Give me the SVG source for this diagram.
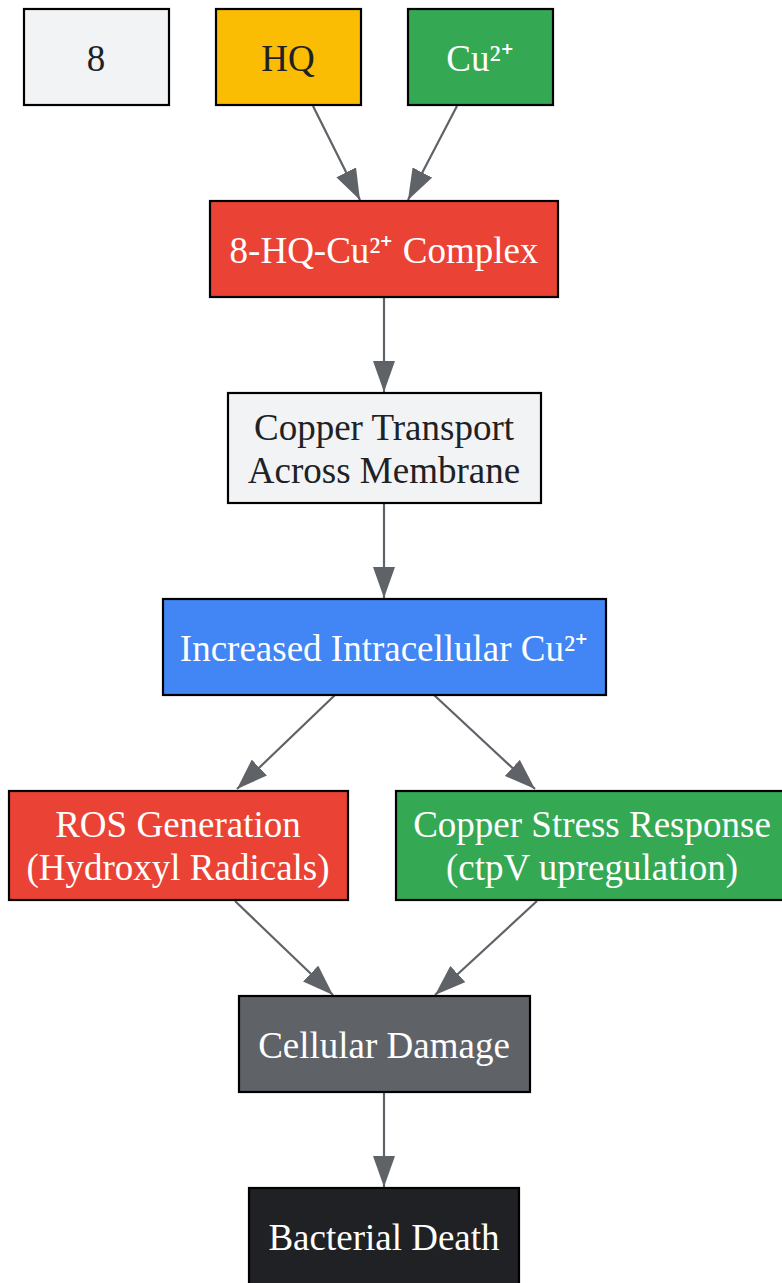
<svg xmlns="http://www.w3.org/2000/svg" width="782" height="1283" viewBox="0 0 782 1283">
<defs>
<marker id="arr" markerWidth="31" markerHeight="22" refX="31" refY="11" orient="auto" markerUnits="userSpaceOnUse">
<path d="M0,0 L31,11 L0,22 Z" fill="#5f6368"/>
</marker>
</defs>
<style>
.n{stroke:#000;stroke-width:2.2}
.t{font-family:"Liberation Serif","Times New Roman",serif;font-size:37px;text-anchor:middle}
.d{fill:#202124}
.w{fill:#ffffff}
.e{stroke:#5f6368;stroke-width:2.2;fill:none;marker-end:url(#arr)}
</style>
<rect width="782" height="1283" fill="#ffffff"/>
<g id="connectors">
<line class="e" x1="313" y1="106" x2="360" y2="200"/>
<line class="e" x1="457" y1="106" x2="408" y2="200"/>
<line class="e" x1="384" y1="297" x2="384" y2="392"/>
<line class="e" x1="384" y1="503" x2="384" y2="598"/>
<line class="e" x1="335" y1="695" x2="237" y2="789"/>
<line class="e" x1="434" y1="695" x2="535" y2="789"/>
<line class="e" x1="235" y1="901" x2="333" y2="995"/>
<line class="e" x1="537" y1="901" x2="435" y2="995"/>
<line class="e" x1="384" y1="1093" x2="384" y2="1187"/>
</g>
<g id="n8">
<rect class="n" x="24" y="9" width="145" height="96" fill="#f1f3f4"/>
<text class="t d" x="96" y="71">8</text>
</g>
<g id="nHQ">
<rect class="n" x="216" y="9" width="145" height="96" fill="#fbbc04"/>
<text class="t d" x="288" y="71">HQ</text>
</g>
<g id="nCu">
<rect class="n" x="408" y="9" width="145" height="96" fill="#34a853"/>
<text class="t w" x="480" y="71">Cu²⁺</text>
</g>
<g id="nComplex">
<rect class="n" x="210" y="201" width="348" height="96" fill="#ea4335"/>
<text class="t w" x="384" y="263">8-HQ-Cu²⁺ Complex</text>
</g>
<g id="nTransport">
<rect class="n" x="228" y="393" width="313" height="110" fill="#f1f3f4"/>
<text class="t d" x="384" y="440">Copper Transport</text>
<text class="t d" x="384" y="483">Across Membrane</text>
</g>
<g id="nIncreased">
<rect class="n" x="163" y="599" width="443" height="96" fill="#4285f4"/>
<text class="t w" x="384" y="661">Increased Intracellular Cu²⁺</text>
</g>
<g id="nROS">
<rect class="n" x="9" y="791" width="339" height="109" fill="#ea4335"/>
<text class="t w" x="178" y="837">ROS Generation</text>
<text class="t w" x="178" y="880">(Hydroxyl Radicals)</text>
</g>
<g id="nStress">
<rect class="n" x="396" y="791" width="392" height="109" fill="#34a853"/>
<text class="t w" x="592" y="837">Copper Stress Response</text>
<text class="t w" x="592" y="880">(ctpV upregulation)</text>
</g>
<g id="nDamage">
<rect class="n" x="239" y="996" width="291" height="96" fill="#5f6368"/>
<text class="t w" x="384" y="1058">Cellular Damage</text>
</g>
<g id="nDeath">
<rect class="n" x="249" y="1188" width="270" height="98" fill="#202124"/>
<text class="t w" x="384" y="1250">Bacterial Death</text>
</g>
</svg>
